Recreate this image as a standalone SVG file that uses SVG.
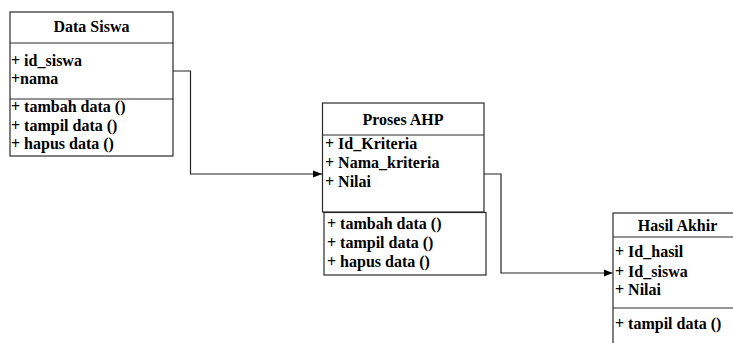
<svg xmlns="http://www.w3.org/2000/svg" width="733" height="343" viewBox="0 0 733 343">
  <style>
    .box { fill: #ffffff; stroke: #2a2a2a; stroke-width: 1.2; }
    .div { stroke: #2a2a2a; stroke-width: 1.2; fill: none; }
    .t { font-family: "Liberation Serif", "Times New Roman", serif; font-weight: bold; font-size: 16px; fill: #000000; }
    .title { text-anchor: middle; }
    .conn { fill: none; stroke: #222222; stroke-width: 1.2; }
  </style>
  <defs>
    <marker id="arrow" viewBox="0 0 10 8" refX="10" refY="4" markerWidth="9" markerHeight="7.5" markerUnits="userSpaceOnUse" orient="auto">
      <path d="M0,0 L10,4 L0,8 z" fill="#000000"/>
    </marker>
  </defs>
  <rect width="733" height="343" fill="#ffffff"/>

  <!-- class: Data Siswa -->
  <g id="data-siswa">
    <rect class="box" x="10" y="12" width="163" height="144"/>
    <line class="div" x1="10" y1="43" x2="173" y2="43"/>
    <line class="div" x1="10" y1="99" x2="173" y2="99"/>
    <text class="t title" x="91.5" y="32">Data Siswa</text>
    <text class="t" x="11" y="66">+ id_siswa</text>
    <text class="t" x="11" y="84">+nama</text>
    <text class="t" x="11" y="112">+ tambah data ()</text>
    <text class="t" x="11" y="131">+ tampil data ()</text>
    <text class="t" x="11" y="149">+ hapus data ()</text>
  </g>

  <!-- class: Proses AHP -->
  <g id="proses-ahp">
    <rect class="box" x="322.5" y="103" width="161.5" height="109"/>
    <line class="div" x1="322.5" y1="135" x2="484" y2="135"/>
    <rect class="box" x="324" y="212.5" width="162" height="62.5"/>
    <text class="t title" x="403" y="125">Proses AHP</text>
    <text class="t" x="325" y="149">+ Id_Kriteria</text>
    <text class="t" x="325" y="168">+ Nama_kriteria</text>
    <text class="t" x="325" y="187">+ Nilai</text>
    <text class="t" x="327" y="229">+ tambah data ()</text>
    <text class="t" x="327" y="248">+ tampil data ()</text>
    <text class="t" x="327" y="267">+ hapus data ()</text>
  </g>

  <!-- class: Hasil Akhir -->
  <g id="hasil-akhir">
    <rect class="box" x="613" y="213" width="130" height="140"/>
    <line class="div" x1="613" y1="237" x2="743" y2="237"/>
    <line class="div" x1="613" y1="308" x2="743" y2="308"/>
    <text class="t title" x="677.5" y="231">Hasil Akhir</text>
    <text class="t" x="615" y="257">+ Id_hasil</text>
    <text class="t" x="615" y="277">+ Id_siswa</text>
    <text class="t" x="615" y="295">+ Nilai</text>
    <text class="t" x="615" y="329">+ tampil data ()</text>
  </g>

  <!-- associations -->
  <g id="connectors">
    <polyline class="conn" points="173,71 190.5,71 190.5,174 322,174" marker-end="url(#arrow)"/>
    <polyline class="conn" points="484,174 501,174 501,273 612.5,273" marker-end="url(#arrow)"/>
  </g>
</svg>
